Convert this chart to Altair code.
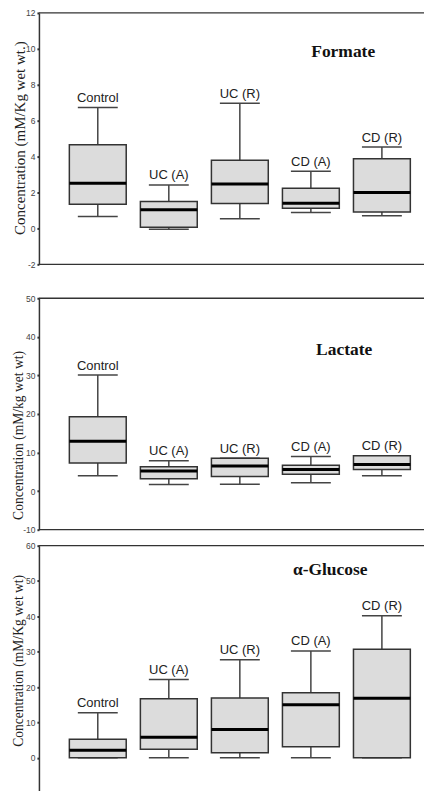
import altair as alt
import pandas as pd

groups = ["Control", "UC (A)", "UC (R)", "CD (A)", "CD (R)"]

formate_low = [0.67, -0.04, 0.54, 0.89, 0.70]
formate_q1 = [1.35, 0.07, 1.39, 1.13, 0.92]
formate_med = [2.51, 1.04, 2.48, 1.40, 2.00]
formate_q3 = [4.66, 1.50, 3.79, 2.24, 3.88]
formate_high = [6.73, 2.42, 6.97, 3.18, 4.53]

lactate_low = [4.0, 1.7, 1.8, 2.2, 4.0]
lactate_q1 = [7.3, 3.2, 3.8, 4.4, 5.6]
lactate_med = [12.9, 5.2, 6.5, 5.6, 6.9]
lactate_q3 = [19.3, 6.3, 8.5, 6.7, 9.2]
lactate_high = [30.1, 7.9, 8.5, 9.0, 9.2]

glucose_low = [0.0, 0.0, 0.0, 0.0, 0.0]
glucose_q1 = [0.0, 2.4, 1.4, 3.1, 0.0]
glucose_med = [2.1, 5.8, 8.0, 15.0, 16.8]
glucose_q3 = [5.2, 16.7, 16.9, 18.4, 30.7]
glucose_high = [12.7, 22.1, 27.7, 30.2, 40.2]

formate_ticks = [-2, 0, 2, 4, 6, 8, 10, 12]
lactate_ticks = [-10, 0, 10, 20, 30, 40, 50]
glucose_ticks = [-10, 0, 10, 20, 30, 40, 50, 60]

W = 386


def make_df(low, q1, med, q3, high):
    return pd.DataFrame({"group": groups, "low": low, "q1": q1, "med": med,
                         "q3": q3, "high": high})


def panel(df, domain, ticks, height, ytitle, ytitle_size, title_x, title_y,
          name, name_x, name_v):
    xenc = alt.X("group:N", sort=groups, axis=None,
                 scale=alt.Scale(type="band", paddingInner=0.1994,
                                 paddingOuter=0.3104, align=0.69))
    yscale = alt.Scale(domain=domain, nice=False, zero=False)
    yaxis = alt.Axis(values=ticks, labelExpr="'' + datum.value",
                     labelFontSize=8.5, labelColor="#444",
                     labelFont="Liberation Sans", labelPadding=2,
                     tickSize=2, tickWidth=2, tickColor="#333",
                     domainColor="#333", domainWidth=1.5, grid=False,
                     titleFont="Liberation Serif", titleFontSize=ytitle_size,
                     titleFontWeight="normal", titleColor="#222",
                     titleX=title_x, titleY=title_y, titleAngle=270,
                     titleAlign="center", titleBaseline="middle")

    def Y(field):
        return alt.Y(f"{field}:Q", scale=yscale, axis=yaxis, title=ytitle)

    base = alt.Chart(df).encode(x=xenc)
    whisk = base.mark_rule(color="#444", strokeWidth=1.5, opacity=1).encode(
        y=Y("low"), y2="high:Q")
    cap_lo = base.mark_tick(color="#444", size=40, thickness=1.5, opacity=1).encode(
        y=Y("low"))
    cap_hi = base.mark_tick(color="#444", size=40, thickness=1.5, opacity=1).encode(
        y=Y("high"))
    box = base.mark_bar(fill="#dcdcdc", stroke="#333", strokeWidth=1.5,
                        opacity=1).encode(y=Y("q1"), y2="q3:Q")
    med = base.mark_tick(color="#000", size=57, thickness=3, opacity=1).encode(
        y=Y("med"))
    lab = base.mark_text(fontSize=13, font="Liberation Sans",
                         baseline="alphabetic", dy=-5.5, color="#222").encode(
        y=Y("high"), text="group:N")
    ttl = alt.Chart(pd.DataFrame({"t": [name], "v": [name_v]})).mark_text(
        font="Liberation Serif", fontWeight="bold", fontSize=17.5,
        baseline="alphabetic", align="center", color="#111").encode(
        x=alt.value(name_x), y=Y("v"), text="t:N")
    frame = alt.Chart(pd.DataFrame({"edge": [domain[0], domain[1]]})).mark_rule(
        color="#333", strokeWidth=1.3).encode(
        y=Y("edge"), x=alt.value(0), x2=alt.value(W))
    return alt.layer(frame, whisk, cap_lo, cap_hi, box, med, lab, ttl).properties(
        width=W, height=height)


p1 = panel(make_df(formate_low, formate_q1, formate_med, formate_q3, formate_high),
           [-2, 12], formate_ticks, 252, "Concentration (mM/Kg wet wt.)", 15,
           -19, 125, "Formate", 305, 9.56)
p2 = panel(make_df(lactate_low, lactate_q1, lactate_med, lactate_q3, lactate_high),
           [-10, 50], lactate_ticks, 232, "Concentration (mM/kg wet wt)", 13.6,
           -20, 137, "Lactate", 306, 35.4)
p3 = panel(make_df(glucose_low, glucose_q1, glucose_med, glucose_q3, glucose_high),
           [-10, 60], glucose_ticks, 248, "Concentration (mM/Kg wet wt)", 13.6,
           -20, 115, "\u03b1-Glucose", 292, 51.8)

top = alt.vconcat(p1, p2, spacing=25)
chart = alt.vconcat(top, p3, spacing=7).configure_view(stroke=None).properties(
    padding={"left": 3, "top": 0, "right": 0, "bottom": 0})

chart.save("out.html", embed_options={"renderer": "svg", "actions": False})
